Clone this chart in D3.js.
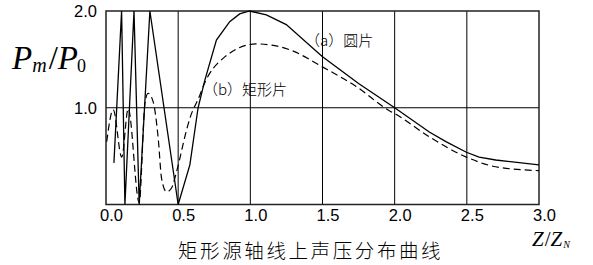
<!DOCTYPE html>
<html>
<head>
<meta charset="utf-8">
<script src="https://cdn.jsdelivr.net/npm/d3@7"></script>
<style>
  html, body { margin: 0; padding: 0; background: #fff; }
  svg { display: block; }
</style>
</head>
<body>
<script>
// Z/ZN positions and Pm/P0 values
const circleZ = [0.055, 0.108, 0.131, 0.194, 0.230, 0.304, 0.500, 0.581, 0.638, 0.684, 0.765, 0.857, 0.926, 0.995, 1.111, 1.249, 1.498, 1.75, 2.0, 2.24, 2.355, 2.497, 2.585, 2.70, 3.0];
const circleP = [0.43, 2.0, 0.0, 2.0, 0.0, 2.0, 0.0, 0.41, 1.0, 1.28, 1.70, 1.89, 1.97, 2.0, 1.96, 1.86, 1.53, 1.25, 1.0, 0.75, 0.65, 0.54, 0.49, 0.46, 0.41];

const rectZ = [0.005, 0.050, 0.109, 0.154, 0.230, 0.270, 0.292, 0.327, 0.362, 0.385, 0.420, 0.454, 0.489, 0.558, 0.581, 0.650, 0.673, 0.811, 1.042, 1.272, 1.502, 1.733, 1.963, 2.0, 2.24, 2.497, 2.70, 3.0];
const rectP = [0.65, 0.98, 0.49, 0.99, 0.02, 1.05, 1.15, 1.06, 0.68, 0.27, 0.13, 0.17, 0.34, 0.77, 0.89, 1.13, 1.22, 1.51, 1.66, 1.60, 1.42, 1.22, 0.97, 0.94, 0.70, 0.49, 0.39, 0.35];

const xTicks = [0, 0.5, 1.0, 1.5, 2.0, 2.5, 3.0];
const yTicks = [1.0, 2.0];
const xGrid = [0.5, 1.0, 1.5, 2.0, 2.5];
const yGrid = [1.0];

const labelA = "（a）圆片";
const labelB = "（b）矩形片";
const title = "矩形源轴线上声压分布曲线";

const width = 593, height = 265;
const plot = {left: 106, right: 539, top: 11, bottom: 204.5};
const serif = "'Liberation Serif', 'DejaVu Serif', 'Times New Roman', serif";
const sans = "'Liberation Sans', Arial, sans-serif";
const cjk = "'Noto Sans CJK SC', sans-serif";

const svg = d3.select("body").append("svg")
  .attr("width", width)
  .attr("height", height);

const x = d3.scaleLinear().domain([0, 3]).range([plot.left, plot.right]);
const y = d3.scaleLinear().domain([0, 2]).range([plot.bottom, plot.top]);

// grid
svg.append("g").selectAll("line").data(xGrid).join("line")
  .attr("x1", d => x(d)).attr("x2", d => x(d))
  .attr("y1", plot.top).attr("y2", plot.bottom)
  .attr("stroke", "#000").attr("stroke-width", 1);

svg.append("g").selectAll("line").data(yGrid).join("line")
  .attr("x1", plot.left).attr("x2", plot.right)
  .attr("y1", d => y(d)).attr("y2", d => y(d))
  .attr("stroke", "#000").attr("stroke-width", 1);

// frame
svg.append("rect")
  .attr("x", plot.left).attr("y", plot.top)
  .attr("width", plot.right - plot.left).attr("height", plot.bottom - plot.top)
  .attr("fill", "none").attr("stroke", "#222").attr("stroke-width", 1.5);

// curves
const circleData = circleZ.map((z, i) => [z, circleP[i]]);
const rectData = rectZ.map((z, i) => [z, rectP[i]]);

svg.append("path")
  .datum(circleData)
  .attr("fill", "none").attr("stroke", "#000").attr("stroke-width", 1.3)
  .attr("d", d3.line().x(d => x(d[0])).y(d => y(d[1])));

svg.append("path")
  .datum(rectData)
  .attr("fill", "none").attr("stroke", "#000").attr("stroke-width", 1.2)
  .attr("stroke-dasharray", "7,4")
  .attr("d", d3.line().curve(d3.curveMonotoneX).x(d => x(d[0])).y(d => y(d[1])));

// x axis labels
const xAxis = d3.axisBottom(x).tickValues(xTicks).tickSize(0).tickFormat(d3.format(".1f"));
const gx = svg.append("g").attr("transform", `translate(0,${plot.bottom})`).call(xAxis);
gx.select(".domain").remove();
gx.selectAll("text")
  .attr("dy", null).attr("y", 16.5).attr("dx", 5)
  .attr("font-family", sans)
  .attr("font-size", 16.5).attr("fill", "#000");

// y axis labels
const yAxis = d3.axisLeft(y).tickValues(yTicks).tickSize(0).tickFormat(d3.format(".1f"));
const gy = svg.append("g").attr("transform", `translate(${plot.left},0)`).call(yAxis);
gy.select(".domain").remove();
gy.selectAll("text")
  .attr("x", -9).attr("dy", "0.35em")
  .attr("font-family", sans)
  .attr("font-size", 16.5).attr("fill", "#000");

// y title  P_m / P_0
const yt = svg.append("text")
  .attr("x", 12).attr("y", 69)
  .attr("font-family", serif)
  .attr("font-size", 33).attr("fill", "#000");
yt.append("tspan").attr("font-style", "italic").text("P");
yt.append("tspan").attr("font-style", "italic").attr("font-size", 20).attr("dy", 3).text("m");
yt.append("tspan").attr("dy", -3).attr("dx", 2).text("/");
yt.append("tspan").attr("font-style", "italic").text("P");
yt.append("tspan").attr("font-size", 18).attr("dy", 3).attr("dx", -1).text("0");

// x title  Z / Z_N
const xt = svg.append("text")
  .attr("x", 532).attr("y", 246)
  .attr("font-family", serif)
  .attr("font-size", 21).attr("fill", "#000");
xt.append("tspan").attr("font-style", "italic").text("Z");
xt.append("tspan").attr("dx", 1).text("/");
xt.append("tspan").attr("font-style", "italic").text("Z");
xt.append("tspan").attr("font-style", "italic").attr("font-size", 10).attr("dy", 2).attr("dx", 1).text("N");

// curve labels
svg.append("text")
  .attr("x", 305).attr("y", 46)
  .attr("font-family", cjk).attr("font-weight", 300)
  .attr("font-size", 15).attr("fill", "#000")
  .text(labelA);

svg.append("text")
  .attr("x", 203).attr("y", 95)
  .attr("font-family", cjk).attr("font-weight", 300)
  .attr("font-size", 15).attr("fill", "#000")
  .text(labelB);

// caption
svg.append("text")
  .attr("x", 178).attr("y", 258)
  .attr("font-family", cjk).attr("font-weight", 300)
  .attr("font-size", 19.5).attr("letter-spacing", 2.6).attr("fill", "#000")
  .text(title);
</script>
</body>
</html>
